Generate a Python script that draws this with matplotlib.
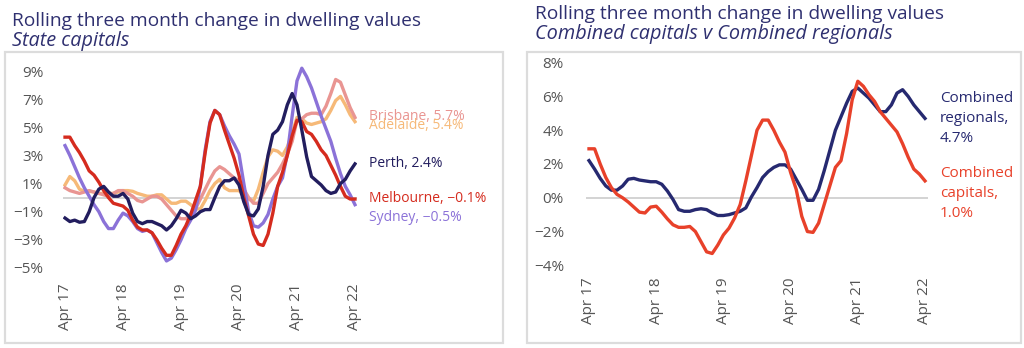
import numpy as np
import matplotlib
matplotlib.use("Agg")
import matplotlib.pyplot as plt
import matplotlib.patches

plt.rcParams['font.family'] = ['Open Sans', 'DejaVu Sans']

# monthly, Apr 2017 .. Apr 2022 (61 points)
tick_labels = ["Apr 17", "Apr 18", "Apr 19", "Apr 20", "Apr 21", "Apr 22"]

melbourne = [4.3, 4.3, 3.7, 3.2, 2.6, 1.9, 1.6, 1.1, 0.5, 0.0, -0.4, -0.5,
             -0.6, -0.9, -1.6, -2.1, -2.3, -2.3, -2.5, -3.0, -3.6, -4.1, -4.1, -3.4,
             -2.6, -2.0, -1.2, -0.2, 0.8, 3.2, 5.3, 6.2, 5.9, 4.8, 3.8, 2.8,
             1.6, 0.0, -1.3, -2.6, -3.3, -3.4, -2.6, -1.1, 0.8, 1.8, 3.0, 4.4,
             5.5, 5.4, 4.7, 4.5, 4.0, 3.4, 3.0, 2.3, 1.6, 0.8, 0.1, -0.1, -0.1]
sydney = [3.7, 3.0, 2.2, 1.4, 0.7, 0.1, -0.5, -1.0, -1.7, -2.2, -2.2, -1.6,
          -1.1, -1.3, -1.7, -2.2, -2.4, -2.3, -2.5, -3.2, -3.9, -4.5, -4.3, -3.7,
          -3.0, -2.2, -1.6, -0.9, 0.8, 3.4, 5.4, 6.2, 5.9, 5.1, 4.4, 3.8,
          3.1, 1.0, -1.0, -2.0, -2.1, -1.8, -1.2, -0.1, 0.8, 1.4, 3.1, 5.8,
          8.3, 9.2, 8.6, 7.8, 6.8, 5.8, 4.9, 4.0, 2.8, 1.7, 0.8, 0.2, -0.5]
perth = [-1.45, -1.7, -1.6, -1.75, -1.7, -1.0, 0.0, 0.6, 0.8, 0.4, 0.1, 0.1,
         0.3, -0.1, -1.1, -1.7, -1.85, -1.7, -1.7, -1.85, -2.0, -2.3, -2.0, -1.5,
         -0.9, -1.1, -1.5, -1.3, -1.0, -0.85, -0.85, 0.0, 0.8, 1.2, 1.2, 1.4,
         0.9, -0.3, -1.2, -1.3, -0.8, 0.8, 3.0, 4.5, 4.8, 5.4, 6.6, 7.4,
         6.6, 4.8, 2.9, 1.5, 1.2, 0.9, 0.5, 0.3, 0.4, 1.0, 1.3, 1.9, 2.4]
brisbane = [0.7, 0.5, 0.4, 0.3, 0.4, 0.5, 0.4, 0.3, 0.2, 0.1, 0.3, 0.5,
            0.5, 0.3, 0.1, -0.2, -0.3, -0.1, 0.1, 0.1, -0.1, -0.5, -0.9, -1.3,
            -1.5, -1.5, -1.2, -0.8, -0.1, 0.6, 1.3, 1.9, 2.2, 2.0, 1.7, 1.4,
            1.2, 0.6, 0.0, -0.4, -0.4, 0.3, 1.0, 1.4, 1.8, 2.4, 3.1, 4.0,
            5.5, 5.6, 5.9, 6.0, 6.0, 5.9, 6.5, 7.4, 8.4, 8.2, 7.3, 6.4, 5.7]
adelaide = [0.9, 1.5, 1.2, 0.6, 0.45, 0.45, 0.4, 0.3, 0.3, 0.3, 0.3, 0.4,
            0.5, 0.5, 0.45, 0.3, 0.2, 0.1, 0.1, 0.2, 0.2, -0.1, -0.4, -0.4,
            -0.25, -0.25, -0.5, -0.8, -0.8, -0.2, 0.5, 1.0, 1.3, 0.7, 0.5, 0.5,
            0.5, 0.2, -0.1, -0.25, 0.6, 1.8, 2.9, 3.4, 3.3, 3.0, 3.6, 4.6,
            5.7, 5.6, 5.3, 5.2, 5.3, 5.4, 5.6, 6.2, 6.9, 7.2, 6.6, 5.9, 5.4]

comb_regionals = [2.2, 1.7, 1.15, 0.7, 0.45, 0.45, 0.7, 1.1, 1.15, 1.05, 1.0, 0.95,
                  0.95, 0.8, 0.4, -0.1, -0.7, -0.8, -0.8, -0.7, -0.65, -0.7, -0.9, -1.05,
                  -1.05, -1.0, -0.9, -0.8, -0.6, 0.05, 0.6, 1.2, 1.55, 1.8, 1.95, 1.95,
                  1.7, 1.1, 0.5, -0.15, -0.15, 0.5, 1.6, 2.8, 4.0, 4.8, 5.6, 6.3,
                  6.5, 6.2, 5.9, 5.5, 5.1, 5.1, 5.5, 6.2, 6.4, 6.0, 5.5, 5.1, 4.7]
comb_capitals = [2.9, 2.9, 2.0, 1.2, 0.6, 0.2, 0.0, -0.25, -0.55, -0.85, -0.9, -0.55,
                 -0.5, -0.85, -1.25, -1.6, -1.75, -1.75, -1.7, -2.0, -2.6, -3.2, -3.3, -2.8,
                 -2.2, -1.8, -1.2, -0.4, 1.0, 2.5, 4.0, 4.6, 4.6, 4.0, 3.3, 2.7,
                 1.5, 0.5, -1.1, -2.0, -2.05, -1.5, -0.4, 0.7, 1.8, 2.2, 3.8, 5.8,
                 6.9, 6.6, 6.1, 5.7, 5.1, 4.7, 4.3, 3.9, 3.2, 2.4, 1.7, 1.4, 1.0]

left_ticks = [9, 7, 5, 3, 1, -1, -3, -5]
right_ticks = [8, 6, 4, 2, 0, -2, -4]

navy = "#221d5e"
title_col = "#2f3070"
tick_col = "#555555"

W, H = 1024, 348
fig = plt.figure(figsize=(W / 100, H / 100), dpi=100)

def px_axes(x0, x1, y0, y1):
    # pixel box (top-left origin) -> figure axes
    return fig.add_axes([x0 / W, 1 - y1 / H, (x1 - x0) / W, (y1 - y0) / H])

def frame(x0, x1, y0, y1):
    rect = matplotlib.patches.Rectangle((x0 / W, 1 - y1 / H), (x1 - x0) / W, (y1 - y0) / H,
                                        transform=fig.transFigure, fill=False,
                                        edgecolor="#dcdcdc", lw=1.6)
    fig.add_artist(rect)

def pct(v):
    return ("\u2212" if v < 0 else "") + "{}%".format(abs(v))

def style(ax, ticks, pad):
    for s in ax.spines.values():
        s.set_visible(False)
    ax.axhline(0, color="#cccccc", lw=1.2, zorder=1)
    ax.set_yticks(ticks)
    ax.set_yticklabels([pct(t) for t in ticks])
    ax.set_xticks(np.arange(0, 61, 12))
    ax.set_xticklabels(tick_labels, rotation=90)
    ax.tick_params(length=0, labelsize=11, colors=tick_col)
    ax.tick_params(axis="y", pad=pad)
    ax.tick_params(axis="x", pad=6)
    ax.set_xlim(-0.5, 60.5)

x = np.arange(len(melbourne))
t1 = 13.8
t2 = 14.3

# ---------- left panel ----------
frame(5, 503, 52, 343)
fig.text(12 / W, 1 - 26 / H, "Rolling three month change in dwelling values",
         fontsize=t1, color=title_col, va="baseline")
fig.text(12 / W, 1 - 46 / H, "State capitals", fontsize=t2, color=title_col,
         style="italic", va="baseline")

ax1 = px_axes(62.6, 357.4, 64, 275)
ax1.set_ylim(-5.5, 9.5)
style(ax1, left_ticks, 14)
lw = 2.4
ax1.plot(x, adelaide, color="#f6b978", lw=lw, zorder=2)
ax1.plot(x, brisbane, color="#e99592", lw=lw, zorder=2)
ax1.plot(x, sydney, color="#8b72d8", lw=lw, zorder=3)
ax1.plot(x, melbourne, color="#d52b1e", lw=lw, zorder=3)
ax1.plot(x, perth, color=navy, lw=lw, zorder=4)

lx = 63.0
fs = 10
ax1.text(lx, 5.8, "Brisbane, 5.7%", color="#e99592", fontsize=fs, va="center", clip_on=False)
ax1.text(lx, 5.1, "Adelaide, 5.4%", color="#f6b978", fontsize=fs, va="center", clip_on=False)
ax1.text(lx, 2.45, "Perth, 2.4%", color=navy, fontsize=fs, va="center", clip_on=False)
ax1.text(lx, -0.05, "Melbourne, \u22120.1%", color="#d52b1e", fontsize=fs, va="center", clip_on=False)
ax1.text(lx, -1.4, "Sydney, \u22120.5%", color="#8b72d8", fontsize=fs, va="center", clip_on=False)

# ---------- right panel ----------
frame(527, 1021, 52, 343)
fig.text(535 / W, 1 - 19 / H, "Rolling three month change in dwelling values",
         fontsize=t1, color=title_col, va="baseline")
fig.text(535 / W, 1 - 39 / H, "Combined capitals v Combined regionals", fontsize=t2,
         color=title_col, style="italic", va="baseline")

ax2 = px_axes(586.2, 927.8, 59.3, 268.7)
ax2.set_ylim(-4.2, 8.2)
style(ax2, right_ticks, 16)
ax2.plot(x, comb_regionals, color="#262970", lw=lw, zorder=3)
ax2.plot(x, comb_capitals, color="#e8412a", lw=lw, zorder=4)

ax2.text(62.7, 4.7, "Combined\nregionals,\n4.7%", color="#262970", fontsize=11,
         va="center", linespacing=1.45, clip_on=False)
ax2.text(62.7, 0.25, "Combined\ncapitals,\n1.0%", color="#e8412a", fontsize=11,
         va="center", linespacing=1.45, clip_on=False)

fig.savefig("out.png", dpi=100)
